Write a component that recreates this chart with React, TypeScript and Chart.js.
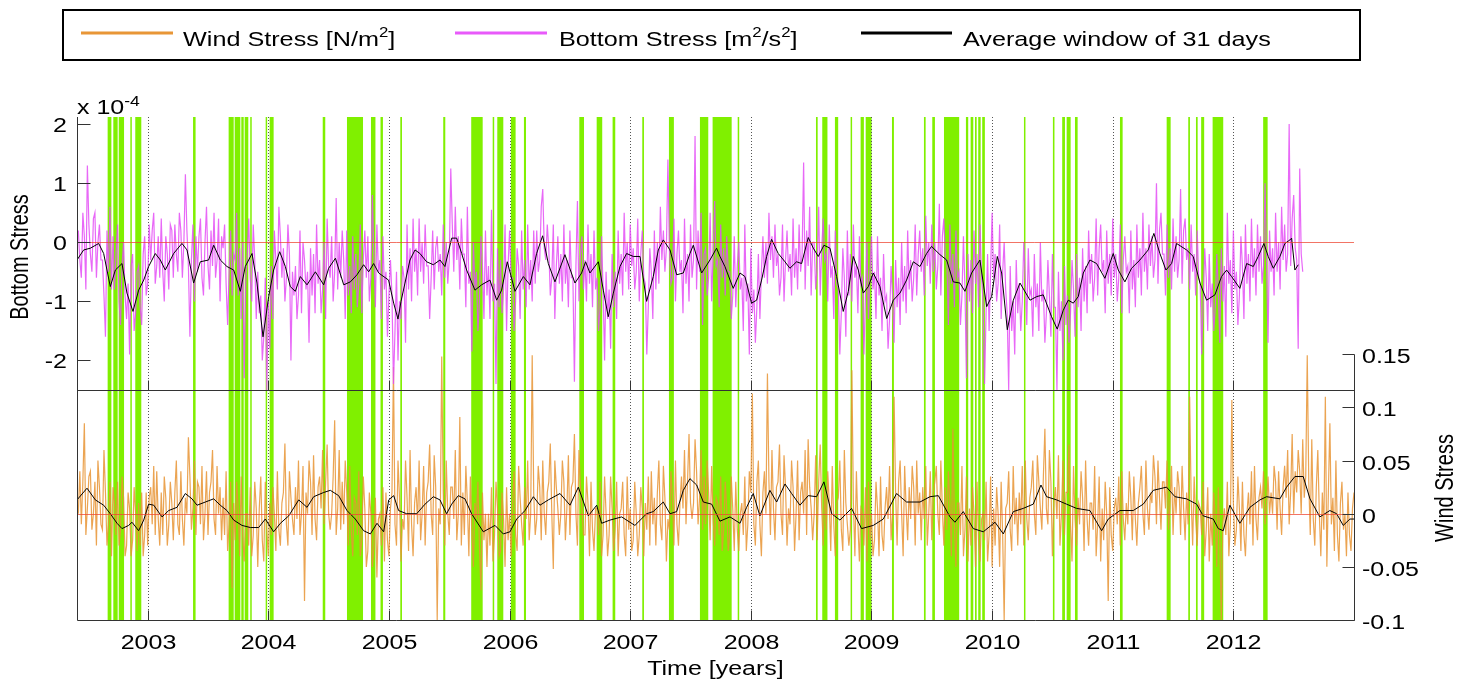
import React, { useEffect, useRef } from "react";
import { Chart, registerables } from "chart.js";

Chart.register(...registerables);

// ---------------- DATA ----------------
const X_MIN = 2002.414;
const X_MAX = 2013.0;
const yearTicks = [2003, 2004, 2005, 2006, 2007, 2008, 2009, 2010, 2011, 2012];
const bottomTicks = [2, 1, 0, -1, -2];
const windTicks = [0.15, 0.1, 0.05, 0, -0.05, -0.1];
const bottomRange = [-2.5, 2.12]; // x 10^-4
const windRange = [-0.1, 0.15];

// raw series sampled every RAW_STEP years starting at RAW_START
const RAW_START = 2002.425;
const RAW_STEP = 0.0125;

// Bottom stress (x 10^-4 m^2/s^2), one row per 0.1 year
const bottomStressRaw = [
  0.2, -0.3, -0.6, 0.5, 0.1, -0.8, 1.3, 0.3,
  -0.2, -0.5, 0.4, 0.5, -0.6, 0.0, 0.3, -0.3,
  -0.3, -0.9, -1.6, 0.2, -0.5, 0.6, -0.8, 0.1,
  -0.8, -0.2, 0.3, -1.0, -1.4, -0.4, 0.0, -0.9,
  -1.3, -0.7, -1.9, -0.4, -0.2, -1.5, -1.2, -0.5,
  -0.4, -1.1, -1.4, -0.2, 0.1, -0.9, -0.7, 0.3,
  -0.3, 0.2, 0.5, -0.7, -0.4, 0.1, -0.6, 0.4,
  -0.5, -1.0, 0.1, -0.2, -0.8, 0.3, 0.2, -0.6,
  0.3, -0.2, -0.5, 0.5, 0.2, -0.6, 0.0, 1.15,
  0.2, -0.4, -1.6, -0.3, 0.3, -1.0, 0.1, -0.5,
  0.1, 0.4, -0.6, -0.9, 0.0, 0.6, -0.4, -0.8,
  0.2, -0.4, 0.5, -0.6, -0.3, 0.4, -1.0, 0.1,
  -0.1, 0.3, -0.7, -1.4, -0.5, 0.2, -0.9, -0.2,
  -0.3, 0.5, -0.9, -0.1, -1.3, 0.0, -2.3, -0.7,
  -0.2, 0.4, -0.6, -1.0, 0.3, -0.3, -1.3, -0.5,
  -1.2, -0.9, -2.0, -1.6, -0.6, -2.5, -1.0, -1.8,
  -0.4, -1.3, 0.2, -0.3, -0.8, 0.6, 0.1, -0.6,
  -0.1, -1.0, -0.6, 0.3, -0.2, -2.0, -0.5, -0.9,
  -0.4, -1.3, -0.9, 0.2, -1.2, 0.0, -0.3, -0.8,
  -0.5, -1.7, -0.1, -0.9, -0.2, -1.2, 0.3, -0.7,
  -0.3, -1.2, -0.8, 0.0, -1.3, 0.4, -0.4, -0.6,
  0.1, -1.0, -0.5, 0.75, -0.8, 0.0, -0.6, 0.2,
  -0.3, -1.3, 0.2, -0.9, -0.4, -1.2, 0.1, -0.8,
  -0.2, -1.1, -0.7, 0.3, -1.2, -0.3, 0.2, -0.6,
  0.1, -1.0, -0.6, 0.8, -0.2, -1.1, 0.3, -0.5,
  -0.3, -1.3, 0.1, -0.8, -0.5, -1.6, -0.9, -0.3,
  -0.9, -2.4, -1.5, -0.5, -2.0, -1.0, -1.3, -0.4,
  -0.6, -1.7, 0.3, -0.8, -0.1, -1.0, 0.4, -0.5,
  -0.1, -0.9, 0.4, -0.5, 0.0, -0.7, 0.3, -0.4,
  -0.4, -1.3, -0.6, 0.2, -0.8, -0.1, 0.1, -0.5,
  -0.2, -0.9, 0.3, -0.6, 0.0, -0.7, -0.3, 1.25,
  0.3, -0.5, 0.6, -0.3, 0.1, -0.8, 0.4, -0.2,
  -0.2, -1.1, 0.6, -0.7, -0.5, -1.85, 0.0, -0.8,
  -0.5, -1.5, -1.0, 0.1, -0.4, -1.3, 0.2, -0.9,
  -0.4, -1.3, 0.55, -1.0, -0.7, -2.4, -0.1, -1.1,
  -0.3, -1.2, -0.8, 0.3, -1.5, -0.4, 0.2, -0.6,
  -0.6, -1.5, -1.0, -0.1, -0.4, -1.3, 0.2, -0.8,
  -0.3, -1.1, 0.3, -0.8, -0.3, -1.0, 0.2, -0.7,
  0.2, -0.5, -0.3, 0.6, 0.9, -0.1, -0.3, 0.3,
  -0.1, -0.9, -0.6, 0.3, -1.3, -0.4, 0.1, -0.7,
  -0.2, -1.0, 0.3, -0.7, -0.3, -1.1, 0.2, -0.6,
  -0.6, -2.36, -0.4, 0.7, -1.0, -0.2, 0.1, -0.8,
  -0.3, -1.0, 0.3, -0.7, -0.2, -1.1, 0.2, -0.8,
  -0.6, -1.5, -1.1, 0.1, -0.8, -2.0, -0.5, -1.3,
  -0.8, -1.8, -0.2, -1.1, -0.5, -1.3, 0.2, -0.7,
  -0.2, -0.9, 0.5, -0.5, 0.0, -0.8, 0.3, -0.4,
  -0.1, -0.8, -0.5, 0.4, -1.0, -0.2, 0.2, -0.6,
  -0.7, -1.9, -1.1, -0.1, -0.5, -1.3, 0.2, -0.8,
  0.0, -0.7, 0.6, -0.3, 0.2, -0.5, -0.1, 1.4,
  -0.1, -0.7, -0.6, 0.4, -1.0, -0.2, 0.2, -0.5,
  -0.3, -1.2, 0.4, -0.7, -0.2, -1.0, 0.3, -0.6,
  -0.3, 1.8, -0.8, 0.2, -0.5, 0.5, -1.4, -0.2,
  -0.1, -0.9, -0.6, 0.5, -1.0, -0.2, 0.7, -0.4,
  -0.3, -1.1, 0.3, -0.6, -0.1, -0.9, 0.1, -0.5,
  -0.5, -1.3, -0.9, 0.1, -1.1, -0.4, 0.0, -0.8,
  -0.6, -1.5, 0.3, -1.0, -0.7, -1.9, -0.1, -1.2,
  -0.8, -1.7, -1.1, -0.2, -1.3, -0.5, 0.1, -0.6,
  0.0, -0.7, 0.5, -0.3, 0.1, -0.6, 0.3, -0.4,
  -0.2, -0.9, -0.6, 0.3, -1.0, -0.3, 0.2, -0.5,
  -0.2, -0.9, 0.4, -0.6, -0.1, -0.8, 0.3, -0.5,
  -0.2, 1.35, -0.8, 0.2, -0.4, 0.6, -0.9, 0.0,
  0.0, -0.8, -0.4, 0.6, -0.9, -0.1, 0.4, -0.3,
  -0.2, -1.0, 0.3, -0.6, -0.4, -1.3, 0.2, -0.7,
  -0.8, -1.9, -1.2, -0.1, -0.6, -1.6, 0.2, -0.9,
  -0.2, -1.0, 0.3, -0.6, -0.4, -1.2, 0.1, -0.7,
  -0.6, -1.9, -0.9, 0.0, -1.3, -0.5, 0.1, -0.8,
  -0.5, -1.3, 0.1, -0.9, -0.6, -1.5, -0.2, -1.0,
  -0.9, -1.8, -1.3, -0.4, -0.9, -1.7, -0.3, -1.1,
  -0.6, -1.4, 0.0, -1.0, -0.4, -1.2, 0.2, -0.8,
  -0.3, -1.0, -0.6, 0.3, -0.9, -0.2, 0.2, -0.5,
  -0.1, -0.9, 0.45, -0.4, 0.0, -0.7, 0.3, -0.5,
  0.0, -0.8, -0.4, 0.65, -0.9, 0.1, 0.4, -0.3,
  -0.3, -1.4, 0.3, -0.7, -0.2, -1.1, 0.2, -0.6,
  -0.5, -1.4, -0.9, 0.1, -0.8, -2.3, -0.2, -1.0,
  -0.3, -1.2, 0.2, -0.7, -0.2, -1.1, 0.3, -0.6,
  -1.0, -2.4, -1.2, -0.2, -1.5, -0.5, 0.5, -0.6,
  -0.2, -1.0, -0.7, 0.3, -1.3, -0.5, 0.0, -0.8,
  -1.2, -2.5, -0.4, -1.5, -1.0, -1.9, -0.3, -1.2,
  -0.7, -1.5, -1.0, 0.0, -0.6, -1.4, -0.1, -0.9,
  -0.8, -1.6, -0.2, -1.1, -0.7, -1.5, 0.0, -1.0,
  -0.8, -1.7, -1.2, -0.3, -0.9, -1.6, -0.2, -1.1,
  -1.1, -2.5, -0.5, -1.5, -1.0, -2.0, -0.4, -1.4,
  -0.9, -1.7, -1.2, -0.3, -0.8, -1.6, -0.2, -1.1,
  -0.6, -1.5, -0.1, -1.0, -0.4, -1.2, 0.2, -0.7,
  -0.2, -1.0, -0.6, 0.4, -0.9, -0.1, 0.3, -0.5,
  -0.3, -1.2, 0.2, -0.7, -0.2, -0.9, 0.4, -0.6,
  -0.2, -1.0, -0.6, 0.3, -1.2, -0.3, 0.1, -0.5,
  -0.4, -1.2, 0.2, -0.8, -0.3, -1.1, 0.3, -0.6,
  -0.1, -0.9, 0.5, -0.5, -0.1, -0.8, 0.3, -0.4,
  0.1, -0.6, -0.3, 1.0, -0.7, 0.2, 0.5, -0.2,
  -0.2, -0.9, 0.3, -0.6, -0.1, -0.8, 0.4, -0.5,
  0.1, -0.6, -0.3, 0.9, -0.7, 0.2, 0.4, -0.3,
  -0.1, -0.8, 0.3, -0.5, -0.2, -0.9, 0.2, -0.6,
  -0.7, -1.9, -1.0, -0.1, -0.6, -1.5, -0.2, -1.1,
  -0.7, -1.5, -1.1, -0.2, -0.8, -1.7, -0.1, -1.0,
  -0.4, -1.6, 0.5, -0.7, -0.3, -1.2, 0.2, -0.8,
  -0.5, -1.4, -0.9, 0.1, -0.4, -1.3, 0.3, -0.7,
  -0.2, -1.0, 0.4, -0.6, -0.1, -0.9, 0.3, -0.5,
  0.1, -0.7, -0.4, 1.0, -0.3, -1.7, 0.2, -0.5,
  -0.1, -0.9, 0.5, -0.5, 0.0, -0.8, 0.6, -0.3,
  0.3, -0.5, -0.2, 2.0, -0.4, 0.4, 0.8, -0.1,
  -0.3, -1.8, 1.25, -0.2, -0.5,
];

// Wind stress (N/m^2), one row per 0.1 year
const windStressRaw = [
  0.0, 0.04, -0.01, 0.03, 0.085, -0.02, 0.005, 0.035,
  0.04, -0.015, 0.0, 0.03, -0.03, 0.05, 0.025, -0.01,
  -0.015, 0.06, 0.02, -0.03, -0.01, 0.03, -0.04, 0.025,
  0.01, -0.02, 0.03, -0.03, -0.015, 0.035, 0.015, -0.04,
  -0.03, 0.02, 0.005, -0.04, -0.025, 0.025, 0.0, -0.035,
  0.01, -0.03, 0.02, -0.04, -0.02, 0.02, -0.03, 0.015,
  0.025, -0.01, 0.045, -0.02, 0.04, -0.005, -0.03, 0.02,
  -0.02, 0.035, 0.015, -0.03, -0.01, 0.03, 0.01, -0.025,
  0.02, 0.05, -0.01, -0.02, 0.04, -0.005, -0.03, 0.015,
  0.0, 0.072, 0.035, -0.015, 0.005, 0.05, -0.02, 0.03,
  0.025, -0.01, 0.045, -0.025, 0.0, 0.04, -0.02, 0.02,
  0.03, 0.06, -0.005, -0.02, 0.045, 0.0, 0.025, -0.025,
  0.015, -0.02, 0.04, -0.035, -0.01, 0.03, -0.07, 0.01,
  -0.025, 0.03, 0.005, -0.04, 0.035, -0.02, -0.045, 0.0,
  0.0, -0.03, 0.025, -0.04, -0.02, 0.03, 0.005, -0.05,
  0.005, 0.035, -0.025, -0.045, 0.03, -0.015, -0.04, 0.01,
  -0.02, 0.025, 0.0, -0.035, 0.04, -0.015, -0.03, 0.01,
  0.02, 0.066, -0.01, -0.03, 0.04, 0.015, -0.005, -0.02,
  0.025, -0.005, 0.05, -0.02, 0.0, 0.045, -0.082, 0.02,
  0.0, 0.05, 0.03, -0.02, 0.055, -0.005, -0.025, 0.025,
  0.035, 0.005, 0.06, -0.01, 0.03, 0.065, 0.0, -0.015,
  0.0, 0.035, 0.088, -0.02, 0.005, 0.06, -0.015, 0.03,
  -0.01, 0.05, 0.02, -0.03, 0.045, -0.015, -0.04, 0.015,
  0.01, -0.02, 0.04, -0.04, -0.025, 0.035, 0.005, -0.05,
  -0.035, 0.02, 0.0, -0.05, -0.03, 0.015, -0.06, -0.005,
  0.0, -0.03, 0.025, -0.045, 0.02, -0.025, -0.04, 0.005,
  0.02, 0.138, -0.01, -0.03, 0.05, 0.015, -0.045, -0.005,
  -0.015, 0.05, 0.015, -0.035, 0.06, -0.01, -0.04, 0.01,
  0.025, -0.01, 0.05, -0.025, 0.0, 0.045, -0.03, 0.02,
  0.03, 0.065, 0.0, -0.02, 0.055, 0.025, -0.1, 0.005,
  -0.01, 0.148, 0.02, -0.03, 0.05, 0.0, -0.02, 0.025,
  0.025, -0.005, 0.06, -0.025, 0.0, 0.091, -0.03, 0.02,
  -0.02, 0.045, 0.01, -0.04, 0.035, -0.015, -0.05, 0.01,
  -0.005, 0.03, -0.03, -0.072, 0.02, -0.025, 0.0, -0.05,
  0.0, -0.03, 0.025, -0.045, -0.02, 0.03, 0.005, -0.04,
  -0.035, 0.02, -0.005, -0.05, 0.025, -0.025, 0.0, -0.04,
  0.01, 0.04, -0.02, -0.035, 0.045, 0.015, -0.01, -0.03,
  0.025, -0.005, 0.05, -0.025, 0.0, 0.149, 0.02, -0.02,
  -0.005, 0.045, 0.025, -0.025, 0.05, 0.0, -0.02, 0.02,
  0.03, 0.066, 0.0, -0.052, 0.05, 0.025, 0.005, -0.02,
  0.0, 0.05, 0.03, -0.025, 0.005, 0.055, -0.02, 0.025,
  0.03, 0.075, 0.0, -0.03, 0.06, 0.025, 0.005, -0.02,
  -0.02, 0.035, 0.01, -0.04, 0.03, -0.015, -0.035, 0.005,
  0.005, -0.02, 0.03, -0.04, -0.02, 0.035, 0.0, -0.04,
  -0.02, 0.035, 0.005, -0.035, -0.015, 0.03, -0.04, 0.0,
  0.005, 0.03, -0.02, -0.04, 0.035, -0.015, 0.005, -0.035,
  -0.025, 0.03, 0.0, -0.04, -0.02, 0.025, 0.005, -0.04,
  0.01, -0.015, 0.035, -0.03, 0.04, -0.01, 0.015, -0.03,
  0.02, 0.05, -0.01, -0.025, 0.045, 0.015, -0.045, -0.005,
  -0.015, 0.04, 0.015, -0.03, 0.05, -0.01, -0.03, 0.01,
  0.035, 0.005, 0.06, -0.01, 0.03, 0.075, 0.01, -0.005,
  0.01, 0.07, 0.04, -0.01, 0.015, 0.06, -0.015, 0.035,
  -0.01, 0.05, 0.02, -0.025, 0.045, -0.005, -0.03, 0.015,
  0.01, -0.02, 0.035, -0.035, -0.015, 0.03, 0.005, -0.035,
  -0.02, 0.035, 0.005, -0.035, 0.03, -0.015, -0.035, 0.0,
  0.01, -0.02, 0.035, -0.035, -0.01, 0.04, 0.02, 0.113,
  -0.01, -0.03, 0.03, 0.05, -0.01, -0.04, 0.02, 0.04,
  0.0, 0.132, 0.03, -0.02, 0.06, 0.005, -0.025, 0.025,
  0.03, 0.065, 0.0, -0.02, 0.055, 0.025, -0.03, 0.005,
  -0.01, 0.05, 0.025, -0.035, 0.0, 0.05, -0.025, 0.02,
  0.03, 0.0, 0.06, -0.02, 0.07, 0.025, 0.005, -0.025,
  0.0, 0.055, -0.025, 0.03, 0.065, 0.005, -0.03, 0.025,
  -0.015, 0.04, 0.01, -0.035, 0.045, -0.01, -0.04, 0.01,
  0.015, 0.05, -0.015, -0.035, 0.06, 0.01, -0.01, -0.03,
  -0.015, 0.135, 0.01, -0.04, 0.04, -0.01, -0.045, 0.005,
  0.0, -0.03, 0.025, -0.045, 0.03, -0.025, 0.0, -0.04,
  -0.025, 0.03, 0.005, -0.04, 0.035, -0.02, -0.035, 0.005,
  0.025, -0.005, 0.045, -0.025, 0.0, 0.11, 0.02, -0.03,
  0.03, 0.05, 0.0, -0.04, 0.045, 0.005, -0.025, 0.025,
  -0.005, 0.045, 0.025, -0.03, 0.05, 0.0, 0.02, -0.025,
  0.025, -0.005, 0.045, -0.03, 0.0, 0.04, -0.025, 0.02,
  0.03, 0.045, 0.0, -0.02, 0.05, 0.005, -0.03, 0.025,
  -0.015, 0.04, 0.01, -0.04, 0.08, -0.01, -0.05, 0.01,
  0.01, -0.02, 0.045, -0.04, -0.015, 0.035, -0.045, 0.005,
  -0.03, 0.025, 0.0, -0.05, 0.03, -0.025, -0.045, -0.005,
  0.0, -0.025, 0.03, -0.045, -0.02, 0.035, -0.05, 0.005,
  -0.03, 0.025, 0.0, -0.05, 0.03, -0.02, -0.1, 0.005,
  0.01, 0.04, -0.015, -0.035, 0.045, -0.01, 0.015, -0.03,
  0.02, -0.01, 0.045, -0.03, 0.05, -0.005, -0.025, 0.015,
  0.025, 0.05, 0.0, -0.02, 0.055, 0.03, 0.005, -0.015,
  0.035, 0.08, 0.005, -0.01, 0.06, 0.03, -0.04, 0.01,
  0.025, -0.005, 0.055, -0.03, 0.0, 0.05, -0.02, 0.02,
  0.02, 0.065, -0.01, -0.045, 0.045, -0.005, -0.03, 0.015,
  -0.01, 0.04, 0.015, -0.035, 0.05, -0.005, -0.03, 0.01,
  0.01, -0.015, 0.045, -0.04, -0.01, 0.035, -0.045, 0.005,
  -0.025, 0.03, 0.0, -0.082, 0.025, -0.02, -0.035, 0.005,
  0.015, -0.01, 0.035, -0.03, 0.04, -0.005, -0.025, 0.01,
  -0.01, 0.04, 0.015, -0.025, 0.035, -0.005, -0.03, 0.01,
  0.025, 0.045, 0.0, -0.02, 0.05, 0.005, -0.015, 0.02,
  0.01, 0.055, 0.035, -0.01, 0.05, 0.015, -0.015, 0.03,
  0.03, 0.005, 0.05, -0.015, 0.01, 0.045, -0.02, 0.025,
  0.0, 0.04, 0.025, -0.02, 0.045, 0.005, -0.025, 0.02,
  -0.01, 0.11, 0.015, -0.03, 0.035, -0.005, -0.03, 0.01,
  0.005, -0.02, 0.03, -0.04, -0.015, 0.025, -0.045, 0.0,
  -0.03, 0.02, -0.005, -0.05, 0.025, -0.025, -0.1, -0.01,
  0.005, -0.02, 0.03, -0.04, -0.01, 0.107, 0.01, -0.03,
  -0.015, 0.035, 0.005, -0.035, 0.03, -0.02, -0.04, 0.0,
  0.02, -0.01, 0.04, -0.03, 0.045, -0.005, -0.025, 0.015,
  0.025, 0.005, 0.04, -0.01, 0.01, 0.035, 0.0, 0.02,
  0.0, 0.045, 0.03, -0.015, 0.04, 0.005, -0.02, 0.025,
  0.045, 0.015, 0.06, -0.01, 0.02, 0.075, 0.0, 0.04,
  0.02, 0.06, 0.04, 0.0, 0.07, 0.015, 0.035, 0.149,
  0.03, -0.02, 0.07, -0.005, -0.03, 0.025, 0.06, 0.0,
  -0.04, 0.02, -0.015, 0.11, -0.05, 0.02, 0.085, -0.01,
  0.015, -0.035, 0.05, -0.02, -0.045, 0.01, 0.03, -0.015,
  0.0, -0.04, 0.02, -0.02, -0.035, 0.005, 0.02, -0.015,
];

// 31-day running averages (time in years, value)
const bottomAvgT = [
  2002.414, 2002.469, 2002.525, 2002.594, 2002.635, 2002.69, 2002.732, 2002.787, 2002.828, 2002.878,
  2002.925, 2002.967, 2003.008, 2003.063, 2003.105, 2003.146, 2003.215, 2003.284, 2003.326, 2003.381,
  2003.436, 2003.505, 2003.547, 2003.602, 2003.657, 2003.713, 2003.768, 2003.809, 2003.865, 2003.906,
  2003.956, 2004.003, 2004.044, 2004.094, 2004.141, 2004.182, 2004.224, 2004.265, 2004.321, 2004.39,
  2004.459, 2004.5, 2004.556, 2004.625, 2004.68, 2004.735, 2004.79, 2004.832, 2004.873, 2004.915,
  2004.997, 2005.039, 2005.075, 2005.1, 2005.133, 2005.174, 2005.216, 2005.257, 2005.312, 2005.368,
  2005.423, 2005.464, 2005.52, 2005.561, 2005.603, 2005.644, 2005.713, 2005.768, 2005.837, 2005.893,
  2005.934, 2005.981, 2006.045, 2006.114, 2006.169, 2006.224, 2006.274, 2006.321, 2006.376, 2006.459,
  2006.542, 2006.597, 2006.63, 2006.666, 2006.736, 2006.777, 2006.818, 2006.86, 2006.915, 2006.97,
  2007.026, 2007.081, 2007.136, 2007.191, 2007.233, 2007.274, 2007.33, 2007.385, 2007.44, 2007.495,
  2007.523, 2007.592, 2007.661, 2007.716, 2007.744, 2007.785, 2007.854, 2007.91, 2007.951, 2008.006,
  2008.048, 2008.089, 2008.131, 2008.172, 2008.227, 2008.283, 2008.324, 2008.379, 2008.421, 2008.476,
  2008.518, 2008.559, 2008.606, 2008.656, 2008.711, 2008.766, 2008.808, 2008.849, 2008.891, 2008.932,
  2008.974, 2009.015, 2009.07, 2009.126, 2009.181, 2009.236, 2009.291, 2009.347, 2009.402, 2009.457,
  2009.498, 2009.568, 2009.623, 2009.678, 2009.733, 2009.775, 2009.83, 2009.899, 2009.955, 2009.996,
  2010.043, 2010.079, 2010.126, 2010.176, 2010.231, 2010.314, 2010.369, 2010.424, 2010.493, 2010.54,
  2010.59, 2010.631, 2010.673, 2010.714, 2010.756, 2010.811, 2010.866, 2010.935, 2011.004, 2011.046,
  2011.101, 2011.156, 2011.225, 2011.294, 2011.341, 2011.391, 2011.441, 2011.488, 2011.529, 2011.612,
  2011.667, 2011.723, 2011.778, 2011.847, 2011.902, 2011.944, 2011.985, 2012.054, 2012.11, 2012.165,
  2012.206, 2012.253, 2012.289, 2012.331, 2012.386, 2012.427, 2012.469, 2012.483, 2012.51, 2012.538,
];
const bottomAvgV = [
  -0.3, -0.13, -0.1, -0.02, -0.19, -0.75, -0.47, -0.36, -0.86, -1.17,
  -0.81, -0.64, -0.41, -0.19, -0.3, -0.47, -0.19, -0.02, -0.13, -0.69,
  -0.33, -0.3, -0.05, -0.3, -0.41, -0.47, -0.83, -0.41, -0.19, -0.69,
  -1.6, -0.92, -0.47, -0.16, -0.41, -0.75, -0.83, -0.58, -0.72, -0.5,
  -0.72, -0.44, -0.27, -0.72, -0.67, -0.55, -0.38, -0.5, -0.36, -0.52,
  -0.64, -1.03, -1.3, -1.0, -0.69, -0.3, -0.13, -0.19, -0.33, -0.38,
  -0.3, -0.41, 0.07, 0.07, -0.19, -0.47, -0.81, -0.72, -0.64, -0.98,
  -0.81, -0.33, -0.83, -0.58, -0.72, -0.19, 0.11, -0.36, -0.67, -0.21,
  -0.69, -0.52, -0.33, -0.52, -0.33, -0.81, -1.26, -0.86, -0.41, -0.19,
  -0.24, -0.24, -1.0, -0.58, -0.13, 0.04, -0.13, -0.55, -0.52, -0.19,
  -0.05, -0.52, -0.3, -0.1, -0.24, -0.41, -0.78, -0.52, -0.58, -1.03,
  -0.98, -0.64, -0.24, 0.05, -0.19, -0.33, -0.44, -0.33, -0.36, 0.08,
  -0.1, -0.24, -0.05, -0.1, -0.58, -1.17, -0.83, -0.24, -0.47, -0.86,
  -0.75, -0.52, -0.75, -1.29, -0.98, -0.86, -0.64, -0.33, -0.41, -0.19,
  -0.07, -0.21, -0.3, -0.67, -0.69, -0.83, -0.52, -0.3, -1.09, -0.92,
  -0.24, -0.52, -1.48, -0.98, -0.69, -0.98, -0.92, -0.89, -1.26, -1.47,
  -1.15, -0.98, -1.03, -0.92, -0.52, -0.3, -0.36, -0.61, -0.19, -0.47,
  -0.67, -0.44, -0.3, -0.13, 0.15, -0.19, -0.47, -0.36, -0.02, -0.13,
  -0.24, -0.69, -0.98, -0.89, -0.58, -0.47, -0.58, -0.78, -0.36, -0.41,
  -0.24, -0.02, -0.24, -0.44, -0.24, -0.02, 0.04, 0.07, -0.47, -0.38,
];

const windAvgT = [
  2002.414, 2002.497, 2002.566, 2002.635, 2002.69, 2002.746, 2002.787, 2002.842, 2002.87, 2002.925,
  2002.967, 2003.008, 2003.05, 2003.119, 2003.174, 2003.243, 2003.312, 2003.367, 2003.409, 2003.478,
  2003.547, 2003.602, 2003.657, 2003.713, 2003.782, 2003.851, 2003.92, 2003.975, 2004.044, 2004.1,
  2004.169, 2004.252, 2004.321, 2004.376, 2004.459, 2004.514, 2004.583, 2004.652, 2004.721, 2004.79,
  2004.846, 2004.901, 2004.956, 2004.998, 2005.039, 2005.08, 2005.147, 2005.23, 2005.299, 2005.368,
  2005.423, 2005.478, 2005.52, 2005.575, 2005.63, 2005.685, 2005.782, 2005.879, 2005.948, 2006.003,
  2006.059, 2006.128, 2006.197, 2006.252, 2006.321, 2006.418, 2006.501, 2006.57, 2006.653, 2006.722,
  2006.763, 2006.832, 2006.929, 2007.039, 2007.136, 2007.191, 2007.274, 2007.33, 2007.385, 2007.44,
  2007.495, 2007.551, 2007.606, 2007.675, 2007.744, 2007.827, 2007.91, 2007.965, 2008.02, 2008.075,
  2008.158, 2008.214, 2008.283, 2008.338, 2008.407, 2008.476, 2008.545, 2008.606, 2008.67, 2008.739,
  2008.835, 2008.918, 2009.015, 2009.098, 2009.208, 2009.291, 2009.402, 2009.485, 2009.554, 2009.651,
  2009.692, 2009.761, 2009.844, 2009.927, 2010.024, 2010.093, 2010.176, 2010.258, 2010.341, 2010.405,
  2010.452, 2010.535, 2010.617, 2010.7, 2010.811, 2010.908, 2010.963, 2011.06, 2011.17, 2011.253,
  2011.336, 2011.446, 2011.516, 2011.612, 2011.695, 2011.75, 2011.833, 2011.875, 2011.916, 2011.971,
  2012.054, 2012.137, 2012.22, 2012.275, 2012.386, 2012.441, 2012.51, 2012.579, 2012.635, 2012.717,
  2012.8, 2012.856, 2012.911, 2012.966, 2013.0,
];
const windAvgV = [
  0.013, 0.024, 0.013, 0.008, 0.0, -0.009, -0.014, -0.011, -0.008, -0.016,
  -0.006, 0.009, 0.008, -0.003, 0.003, 0.006, 0.019, 0.014, 0.008, 0.011,
  0.014, 0.008, 0.003, -0.006, -0.011, -0.013, -0.013, -0.005, -0.017, -0.009,
  -0.002, 0.013, 0.006, 0.016, 0.02, 0.022, 0.017, 0.003, -0.005, -0.016,
  -0.019, -0.009, -0.017, 0.013, 0.017, 0.003, 0.0, 0.0, 0.009, 0.016,
  0.013, 0.0, 0.009, 0.017, 0.014, 0.0, -0.017, -0.011, -0.019, -0.017,
  -0.005, 0.003, 0.016, 0.008, 0.013, 0.019, 0.008, 0.025, -0.002, 0.008,
  -0.009, -0.006, -0.003, -0.011, 0.0, 0.002, 0.011, 0.0, 0.002, 0.022,
  0.033, 0.027, 0.011, 0.009, -0.007, -0.003, -0.009, 0.006, 0.019, -0.002,
  0.022, 0.011, 0.028, 0.019, 0.008, 0.017, 0.016, 0.03, 0.0, -0.006,
  0.005, -0.014, -0.011, -0.005, 0.019, 0.011, 0.011, 0.016, 0.017, -0.003,
  -0.008, 0.002, -0.014, -0.017, -0.008, -0.019, 0.002, 0.005, 0.009, 0.027,
  0.016, 0.013, 0.009, 0.005, 0.003, -0.016, -0.005, 0.003, 0.003, 0.009,
  0.022, 0.025, 0.016, 0.014, 0.009, -0.002, -0.005, -0.014, -0.016, 0.008,
  -0.009, 0.006, 0.013, 0.016, 0.014, 0.025, 0.035, 0.035, 0.014, -0.003,
  0.003, 0.0, -0.011, -0.005, -0.005,
];

// Periods highlighted in green (start year, end year)
const greenStart = [
  2002.668, 2002.715, 2002.76, 2002.856, 2002.897, 2003.376, 2003.671, 2003.721, 2003.776, 2003.804,
  2003.85, 2003.978, 2004.011, 2004.451, 2004.652, 2004.851, 2004.93, 2005.094, 2005.45, 2005.682,
  2005.86, 2005.898, 2006.011, 2006.119, 2006.578, 2006.722, 2006.854, 2007.1, 2007.321, 2007.578,
  2007.683, 2007.891, 2008.54, 2008.592, 2008.697, 2008.827, 2008.91, 2008.952, 2009.17, 2009.435,
  2009.504, 2009.601, 2009.783, 2009.822, 2009.858, 2009.885, 2009.918, 2010.264, 2010.504, 2010.581,
  2010.618, 2010.687, 2011.06, 2011.447, 2011.626, 2011.69, 2011.733, 2011.828, 2012.247,
];
const greenEnd = [
  2002.699, 2002.751, 2002.804, 2002.864, 2002.947, 2003.397, 2003.713, 2003.768, 2003.796, 2003.834,
  2003.859, 2003.989, 2004.044, 2004.472, 2004.785, 2004.888, 2004.95, 2005.108, 2005.467, 2005.777,
  2005.871, 2005.948, 2006.05, 2006.136, 2006.617, 2006.768, 2006.876, 2007.114, 2007.362, 2007.647,
  2007.841, 2007.902, 2008.554, 2008.635, 2008.724, 2008.838, 2008.937, 2009.001, 2009.186, 2009.449,
  2009.526, 2009.727, 2009.802, 2009.844, 2009.872, 2009.905, 2009.94, 2010.275, 2010.517, 2010.604,
  2010.651, 2010.709, 2011.082, 2011.48, 2011.64, 2011.704, 2011.758, 2011.916, 2012.284,
];

// ---------------- STYLE / LAYOUT ----------------
const W = 1472;
const H = 684;
const AREA = { left: 77, right: 1354, top: 117, bottom: 620 };
const TOP_PANEL_BOTTOM = 390; // pixel where bottom-stress panel ends
const WIND_PANEL_TOP = 354.3; // pixel where wind panel starts
const FONT = '"Liberation Sans", Arial, Helvetica, sans-serif';
const SX = 1.25; // horizontal stretch of the original figure text
const MAGENTA = "rgba(228, 78, 246, 0.85)";
const ORANGE = "rgba(232, 148, 52, 0.85)";
const GREEN = "rgb(128, 240, 0)";
const ZERO = "rgba(238, 70, 50, 0.75)";
const AXIS = "#333";

const fB = (TOP_PANEL_BOTTOM - AREA.top) / (AREA.bottom - AREA.top);
const bottomMinExt = bottomRange[1] - (bottomRange[1] - bottomRange[0]) / fB;
const fW = (AREA.bottom - WIND_PANEL_TOP) / (AREA.bottom - AREA.top);
const windMaxExt = windRange[0] + (windRange[1] - windRange[0]) / fW;

type Part = [string, boolean];

function drawText(
  ctx: CanvasRenderingContext2D,
  s: string,
  x: number,
  y: number,
  size: number,
  align: CanvasTextAlign,
  baseline: CanvasTextBaseline,
  rot = 0,
  sx = SX
) {
  ctx.save();
  ctx.translate(x, y);
  ctx.scale(sx, 1);
  if (rot) ctx.rotate(rot);
  ctx.font = `${size}px ${FONT}`;
  ctx.textAlign = align;
  ctx.textBaseline = baseline;
  ctx.fillStyle = "#000";
  ctx.fillText(s, 0, 0);
  ctx.restore();
}

function drawRich(ctx: CanvasRenderingContext2D, parts: Part[], x: number, y: number, size: number, sx = SX) {
  let cx = x;
  for (const [s, sup] of parts) {
    const fs = sup ? Math.round(size * 0.68) : size;
    ctx.save();
    ctx.font = `${fs}px ${FONT}`;
    const w = ctx.measureText(s).width * sx;
    ctx.translate(cx, sup ? y - size * 0.42 : y);
    ctx.scale(sx, 1);
    ctx.textAlign = "left";
    ctx.textBaseline = "alphabetic";
    ctx.fillStyle = "#000";
    ctx.fillText(s, 0, 0);
    ctx.restore();
    cx += w;
  }
}

const decorPlugin = {
  id: "decor",
  beforeDatasetsDraw(chart: any) {
    const { ctx, chartArea: ca, scales } = chart;
    const x = scales.x;
    ctx.save();
    ctx.fillStyle = GREEN;
    for (let i = 0; i < greenStart.length; i++) {
      const a = x.getPixelForValue(greenStart[i]);
      const b = x.getPixelForValue(greenEnd[i]);
      ctx.fillRect(a, ca.top, Math.max(b - a, 1.5), ca.bottom - ca.top);
    }
    ctx.strokeStyle = "#555";
    ctx.lineWidth = 1;
    ctx.setLineDash([1, 2]);
    for (const yr of yearTicks) {
      const px = Math.round(x.getPixelForValue(yr)) + 0.5;
      ctx.beginPath();
      ctx.moveTo(px, ca.top);
      ctx.lineTo(px, ca.bottom);
      ctx.stroke();
    }
    ctx.restore();
  },
  afterDatasetsDraw(chart: any) {
    const { ctx, chartArea: ca, scales } = chart;
    ctx.save();
    ctx.strokeStyle = ZERO;
    ctx.lineWidth = 1;
    for (const py of [scales.yB.getPixelForValue(0), scales.yW.getPixelForValue(0)]) {
      const p = Math.round(py) + 0.5;
      ctx.beginPath();
      ctx.moveTo(ca.left, p);
      ctx.lineTo(ca.right, p);
      ctx.stroke();
    }
    ctx.restore();
  },
  afterDraw(chart: any) {
    const { ctx, chartArea: ca, scales } = chart;
    const { x, yB, yW } = scales;
    ctx.save();
    ctx.strokeStyle = AXIS;
    ctx.lineWidth = 1;
    const L = Math.round(ca.left) + 0.5;
    const R = Math.round(ca.right) + 0.5;
    const B = Math.round(ca.bottom) + 0.5;
    const mid = Math.round(yB.getPixelForValue(bottomRange[0])) + 0.5;
    const wTop = Math.round(yW.getPixelForValue(windRange[1])) + 0.5;
    ctx.beginPath();
    ctx.moveTo(L, ca.top);
    ctx.lineTo(L, B);
    ctx.lineTo(R, B);
    ctx.lineTo(R, wTop);
    ctx.moveTo(L, mid);
    ctx.lineTo(R, mid);
    ctx.stroke();

    // left ticks (bottom stress)
    for (const v of bottomTicks) {
      const py = Math.round(yB.getPixelForValue(v)) + 0.5;
      ctx.beginPath();
      ctx.moveTo(L, py);
      ctx.lineTo(L + 13, py);
      ctx.stroke();
      drawText(ctx, String(v), ca.left - 10, py + 2, 20, "right", "middle");
    }
    // right ticks (wind stress)
    for (const v of windTicks) {
      const py = Math.round(yW.getPixelForValue(v)) + 0.5;
      ctx.beginPath();
      ctx.moveTo(R - 12, py);
      ctx.lineTo(R, py);
      ctx.stroke();
      drawText(ctx, String(v), ca.right + 8, py + 3, 20, "left", "middle");
    }
    // x ticks
    for (const yr of yearTicks) {
      const px = Math.round(x.getPixelForValue(yr)) + 0.5;
      ctx.beginPath();
      ctx.moveTo(px, B);
      ctx.lineTo(px, B - 10);
      ctx.moveTo(px, mid);
      ctx.lineTo(px, mid - 10);
      ctx.stroke();
      drawText(ctx, String(yr), px, ca.bottom + 23, 20, "center", "middle");
    }
    // axis titles
    drawText(ctx, "Time [years]", (ca.left + ca.right) / 2, ca.bottom + 55, 20, "center", "alphabetic");
    drawText(ctx, "Bottom Stress", 21, 257, 20, "center", "middle", -Math.PI / 2);
    drawText(ctx, "Wind Stress", 1446, 488, 20, "center", "middle", -Math.PI / 2);
    drawRich(ctx, [["x 10", false], ["-4", true]], ca.left, ca.top - 3, 20);

    // legend
    ctx.lineWidth = 2;
    ctx.strokeStyle = "#000";
    ctx.strokeRect(63, 10, 1297, 50);
    const items: { color: string; x0: number; x1: number; tx: number; parts: Part[] }[] = [
      { color: "rgb(232,150,55)", x0: 81, x1: 173, tx: 183, parts: [["Wind Stress [N/m", false], ["2", true], ["]", false]] },
      {
        color: "rgb(232,90,250)",
        x0: 455,
        x1: 547,
        tx: 559,
        parts: [["Bottom Stress [m", false], ["2", true], ["/s", false], ["2", true], ["]", false]],
      },
      { color: "#000", x0: 861, x1: 952, tx: 963, parts: [["Average window of 31 days", false]] },
    ];
    for (const it of items) {
      ctx.lineWidth = 3;
      ctx.strokeStyle = it.color;
      ctx.beginPath();
      ctx.moveTo(it.x0, 33);
      ctx.lineTo(it.x1, 33);
      ctx.stroke();
      drawRich(ctx, it.parts, it.tx, 46, 21, 1.2);
    }
    ctx.restore();
  },
};

export default function App() {
  const ref = useRef<HTMLCanvasElement | null>(null);
  useEffect(() => {
    if (!ref.current) return;
    const bsRaw = bottomStressRaw.map((v, i) => ({ x: RAW_START + i * RAW_STEP, y: v }));
    const wsRaw = windStressRaw.map((v, i) => ({ x: RAW_START + i * RAW_STEP, y: v }));
    const bsAvg = bottomAvgT.map((t, i) => ({ x: t, y: bottomAvgV[i] }));
    const wsAvg = windAvgT.map((t, i) => ({ x: t, y: windAvgV[i] }));
    const chart = new Chart(ref.current, {
      type: "line",
      data: {
        datasets: [
          { label: "Average (bottom)", data: bsAvg, yAxisID: "yB", borderColor: "#000", borderWidth: 1, pointRadius: 0, order: 0 },
          { label: "Average (wind)", data: wsAvg, yAxisID: "yW", borderColor: "#000", borderWidth: 1, pointRadius: 0, order: 0 },
          { label: "Bottom Stress", data: bsRaw, yAxisID: "yB", borderColor: MAGENTA, borderWidth: 1.2, pointRadius: 0, order: 1 },
          { label: "Wind Stress", data: wsRaw, yAxisID: "yW", borderColor: ORANGE, borderWidth: 1.2, pointRadius: 0, order: 2 },
        ],
      },
      options: {
        animation: false,
        responsive: false,
        devicePixelRatio: 1,
        events: [],
        layout: { padding: { left: AREA.left, right: W - AREA.right, top: AREA.top, bottom: H - AREA.bottom } },
        plugins: { legend: { display: false }, tooltip: { enabled: false }, title: { display: false } },
        elements: { line: { tension: 0 } },
        scales: {
          x: { type: "linear", min: X_MIN, max: X_MAX, display: false },
          yB: { type: "linear", position: "left", min: bottomMinExt, max: bottomRange[1], display: false },
          yW: { type: "linear", position: "right", min: windRange[0], max: windMaxExt, display: false },
        },
      },
      plugins: [decorPlugin],
    });
    return () => chart.destroy();
  }, []);
  return (
    <div style={{ position: "fixed", left: 0, top: 0, width: W, height: H, background: "#fff" }}>
      <canvas ref={ref} width={W} height={H} style={{ display: "block", width: W, height: H }} />
    </div>
  );
}
